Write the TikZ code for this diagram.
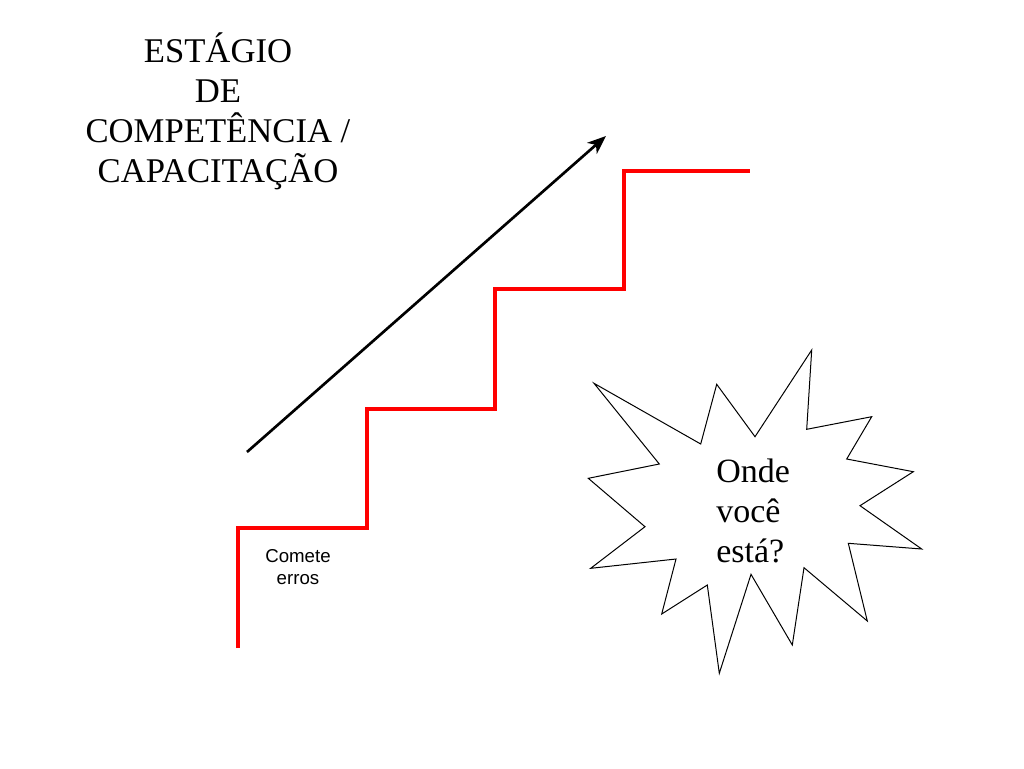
\documentclass[tikz,border=0pt]{standalone}
\usepackage{fontspec}
\setmainfont{Liberation Serif}
\newfontfamily\arialfont{Liberation Sans}
\usetikzlibrary{arrows.meta}
\begin{document}
\begin{tikzpicture}[x=0.75pt,y=-0.75pt,
  titletext/.style={font=\fontsize{26}{30}\selectfont, align=center, inner sep=0pt},
  bursttext/.style={font=\fontsize{25.5}{30}\selectfont, align=left, inner sep=0pt, anchor=north west},
  smalltext/.style={font=\arialfont\fontsize{14}{17}\selectfont, align=center, inner sep=0pt},
  stairline/.style={draw=red, line width=3pt},
  arrowline/.style={draw=black, line width=2pt, -{Stealth[length=14pt,width=11pt,inset=4pt]}},
  burstline/.style={draw=black, line width=0.75pt, fill=white, line join=miter}]
\useasboundingbox (0,0) rectangle (1024,768);
% title
\node[titletext] (title) at (218,111) {ESTÁGIO\\DE\\COMPETÊNCIA /\\CAPACITAÇÃO};
% staircase
\coordinate (s0) at (238,648);
\coordinate (s1) at (238,528);
\coordinate (s2) at (367,528);
\coordinate (s3) at (367,409);
\coordinate (s4) at (495,409);
\coordinate (s5) at (495,289);
\coordinate (s6) at (624,289);
\coordinate (s7) at (624,171);
\coordinate (s8) at (750,171);
\draw[stairline] (s0) -- (s1) -- (s2) -- (s3) -- (s4) -- (s5) -- (s6) -- (s7) -- (s8);
% arrow
\coordinate (a0) at (247,452);
\coordinate (a1) at (606,136);
\draw[arrowline] (a0) -- (a1);
% label
\node[smalltext] (comete) at (298,567) {Comete\\erros};
% starburst
\draw[burstline] (594,383.3) -- (659.3,464) -- (588.3,478.3) -- (645,526.7) -- (590.7,568.3)
 -- (676,559) -- (661.7,614) -- (707.3,585) -- (719.3,673.3) -- (751,574.3) -- (792.3,645)
 -- (804,567.7) -- (867.3,621) -- (848.3,543.3) -- (921.7,549) -- (860,505.7) -- (913.3,471.7)
 -- (846.7,459) -- (871.7,416.7) -- (806.7,429.3) -- (811.7,350) -- (755,436.7) -- (716.7,384.3)
 -- (700.7,444) -- cycle;
\node[bursttext] (onde) at (716,459) {Onde\\você\\está?};
\end{tikzpicture}
\end{document}
